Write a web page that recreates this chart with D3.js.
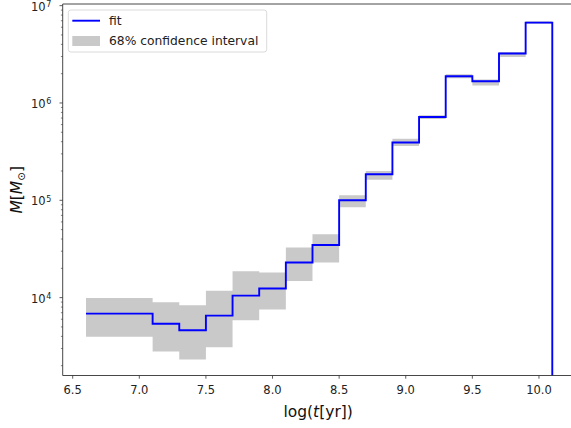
<!DOCTYPE html>
<html><head><meta charset="utf-8">
<script src="https://cdn.jsdelivr.net/npm/d3@7"></script>
<style>
body{margin:0;background:#fff;}
svg{display:block;font-family:"DejaVu Sans",sans-serif;}
</style></head>
<body>
<svg id="c" width="571" height="428"></svg>
<script>
const binEdges = [6.6,7.1,7.3,7.5,7.7,7.9,8.1,8.3,8.5,8.7,8.9,9.1,9.3,9.5,9.7,9.9,10.1];
const fitValues = [6850,5400,4620,6540,10500,12400,23000,34700,100000,185000,392000,718000,1880000,1670000,3220000,6700000];
const ciLow = [3975,2800,2320,3100,5850,7540,14800,23000,85000,163000,361000,685000,1790000,1510000,2970000,6500000];
const ciHigh = [9900,8950,8330,11800,18700,18100,32700,44800,113000,200000,430000,748000,1970000,1740000,3340000,6900000];
const xTicks = [6.5,7.0,7.5,8.0,8.5,9.0,9.5,10.0];
const yMajorExp = [4,5,6,7];

const svg = d3.select("#c");
const L = 62.7, R = 575.6, T = 4, B = 375.5;
const x = d3.scaleLinear().domain([6.425, 10.275]).range([L, R]);
const y = d3.scaleLog().domain([Math.pow(10,3.20), Math.pow(10,7.017)]).range([B, T]);

const pts = binEdges.map((e,i)=>({x:e, f:fitValues[Math.min(i,fitValues.length-1)], lo:ciLow[Math.min(i,ciLow.length-1)], hi:ciHigh[Math.min(i,ciHigh.length-1)]}));

const g = svg.append("g");
g.append("defs").append("clipPath").attr("id","clip").append("rect")
  .attr("x",L).attr("y",T).attr("width",R-L).attr("height",B-T);
const plot = g.append("g").attr("clip-path","url(#clip)");

plot.append("path").datum(pts)
  .attr("d", d3.area().curve(d3.curveStepAfter).x(d=>x(d.x)).y0(d=>y(d.lo)).y1(d=>y(d.hi)))
  .attr("fill","#c9c9c9");

const lineGen = d3.line().curve(d3.curveStepAfter).x(d=>x(d.x)).y(d=>y(d.f));
let dPath = lineGen(pts);
dPath += "L" + x(binEdges[binEdges.length-1]) + "," + (y.range()[0]+5);
plot.append("path").attr("d", dPath).attr("fill","none").attr("stroke","#0000ff").attr("stroke-width",1.9);

const spine = "#333";
[[L,L,T,B],[L,R,B,B],[L,R,T,T],[R,R,T,B]].forEach(s=>{
  g.append("line").attr("x1",s[0]).attr("x2",s[1]).attr("y1",s[2]).attr("y2",s[3]).attr("stroke",spine).attr("stroke-width",0.9);
});

xTicks.forEach(t=>{
  g.append("line").attr("x1",x(t)).attr("x2",x(t)).attr("y1",B).attr("y2",B+3.2).attr("stroke",spine).attr("stroke-width",0.8);
  g.append("text").attr("x",x(t)).attr("y",B+18.5).attr("text-anchor","middle")
   .attr("font-size",11.5).attr("fill","#222").text(d3.format(".1f")(t));
});

const [ymin,ymax] = y.domain();
for (let e=3; e<=7; e++){
  for (let m=1; m<=9; m++){
    const v = m*Math.pow(10,e);
    if (v<ymin || v>ymax*1.0001) continue;
    const major = m===1;
    g.append("line").attr("x1",L).attr("x2",L-(major?3.2:1.8)).attr("y1",y(v)).attr("y2",y(v))
     .attr("stroke",spine).attr("stroke-width",major?0.8:0.6);
  }
}
yMajorExp.forEach(e=>{
  const v = Math.pow(10,e);
  g.append("text").attr("x",L-17).attr("y",y(v)+5).attr("text-anchor","end")
    .attr("font-size",11.5).attr("fill","#222").text("10");
  g.append("text").attr("x",L-16.5).attr("y",y(v)+1.2).attr("text-anchor","start")
    .attr("font-size",8).attr("fill","#222").text(e);
});

const xl = g.append("text").attr("x",(L+R)/2 - 1).attr("y",417).attr("text-anchor","middle")
  .attr("font-size",15.5).attr("fill","#111");
xl.append("tspan").text("log(");
xl.append("tspan").attr("font-style","italic").text("t");
xl.append("tspan").text("[yr])");

const yl = g.append("text").attr("transform","translate(22,"+((T+B)/2)+") rotate(-90)")
  .attr("text-anchor","middle").attr("font-size",15.5).attr("fill","#111");
yl.append("tspan").attr("font-style","italic").text("M");
yl.append("tspan").text("[");
yl.append("tspan").attr("font-style","italic").text("M");
yl.append("tspan").attr("font-size",10.5).attr("dy",3).text("⊙");
yl.append("tspan").attr("dy",-3).text("]");

const lg = g.append("g");
lg.append("rect").attr("x",68.3).attr("y",10).attr("width",198.4).attr("height",42).attr("rx",2.5)
  .attr("fill","#fff").attr("fill-opacity",0.8).attr("stroke","#d6d6d6").attr("stroke-width",0.9);
lg.append("line").attr("x1",72.3).attr("x2",100).attr("y1",20.7).attr("y2",20.7).attr("stroke","#0000ff").attr("stroke-width",1.9);
lg.append("text").attr("x",109).attr("y",25).attr("font-size",12.3).attr("fill","#222").text("fit");
lg.append("rect").attr("x",72.3).attr("y",36).attr("width",27.7).attr("height",10).attr("fill","#c9c9c9");
lg.append("text").attr("x",109).attr("y",45.3).attr("font-size",12.3).attr("fill","#222").text("68% confidence interval");
</script>
</body></html>
